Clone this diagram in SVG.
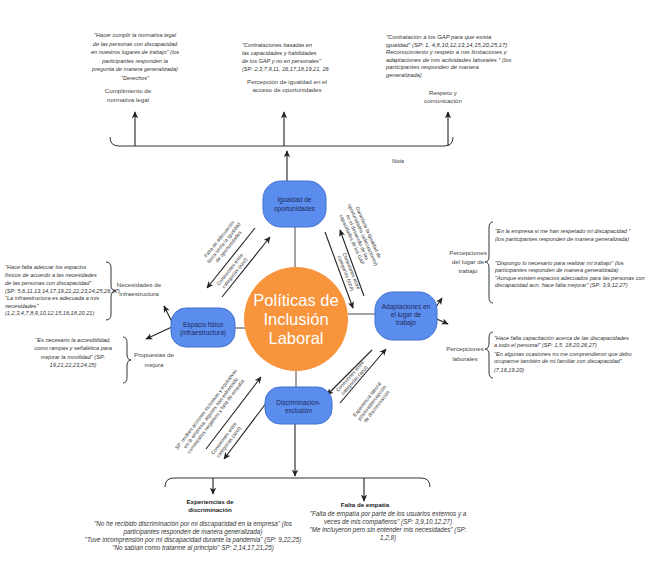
<svg xmlns="http://www.w3.org/2000/svg" width="666" height="582" viewBox="0 0 666 582">
<defs>
<marker id="ah" viewBox="0 0 10 10" refX="9" refY="5" markerWidth="7" markerHeight="7" markerUnits="userSpaceOnUse" orient="auto"><path d="M0,0.5 L10,5 L0,9.5 L2.5,5 z" fill="#222"/></marker>
<style>
.q{font-family:"Liberation Sans",Arial,sans-serif;font-style:italic;font-size:5.6px;fill:#333}
.q2{font-family:"Liberation Sans",Arial,sans-serif;font-style:italic;font-size:5.9px;fill:#333}
.qc{font-family:"Liberation Sans",Arial,sans-serif;font-style:italic;font-size:5.6px;fill:#333;text-anchor:middle}
.qb{font-family:"Liberation Sans",Arial,sans-serif;font-style:italic;font-size:6.3px;fill:#333;text-anchor:middle}
.lb{font-family:"Liberation Sans",Arial,sans-serif;font-size:6.2px;fill:#444;text-anchor:middle}
.bd{font-family:"Liberation Sans",Arial,sans-serif;font-size:6.2px;font-weight:bold;fill:#222;text-anchor:middle}
.dg{font-family:"Liberation Sans",Arial,sans-serif;font-size:5px;fill:#333;text-anchor:middle}
.nt{font-family:"Liberation Sans",Arial,sans-serif;font-size:6.5px;fill:#1b2a57;text-anchor:middle}
.node{fill:#5b8def;stroke:#4170cc;stroke-width:1}
.ln{stroke:#222;stroke-width:1.1;fill:none}
.gl{stroke:#666;stroke-width:1.2;fill:none}
.br{stroke:#333;stroke-width:1;fill:none}
.ct{font-family:"Liberation Sans",Arial,sans-serif;font-size:16.5px;fill:#fff;text-anchor:middle}
</style>
</defs>
<rect width="666" height="582" fill="#fff"/>

<g id="connectors">
  <line class="gl" x1="295" y1="227" x2="295" y2="267"/>
  <line class="gl" x1="296" y1="371" x2="296" y2="387"/>
  <line class="gl" x1="234" y1="328" x2="245" y2="328"/>
  <line class="gl" x1="348" y1="314" x2="375" y2="314"/>
  <path class="br" d="M110,137 Q110,146 119,146 L444,146 Q453,146 453,137"/>
  <path class="br" d="M165,487 Q165,478 174,478 L421,478 Q430,478 430,487"/>
  <path class="br" d="M106,262 Q111,262 111,268 L111,285 Q111,291 116,291 Q111,291 111,297 L111,314 Q111,320 106,320"/>
  <path class="br" d="M123,337 Q127,337 127,343 L127,354 Q127,360 131,360 Q127,360 127,366 L127,377 Q127,383 123,383"/>
  <path class="br" d="M493,222 Q489,222 489,228 L489,256 Q489,262 485,262 Q489,262 489,268 L489,297 Q489,303 493,303"/>
  <path class="br" d="M493,332 Q489,332 489,338 L489,343 Q489,349 485,349 Q489,349 489,355 L489,372 Q489,378 493,378"/>
  <line class="ln" x1="135" y1="146" x2="135" y2="112" marker-end="url(#ah)"/>
  <line class="ln" x1="284" y1="146" x2="284" y2="112" marker-end="url(#ah)"/>
  <line class="ln" x1="448" y1="146" x2="448" y2="112" marker-end="url(#ah)"/>
  <line class="ln" x1="287" y1="181" x2="287" y2="151" marker-end="url(#ah)"/>
  <line class="ln" x1="174" y1="326" x2="164" y2="306" marker-end="url(#ah)"/>
  <line class="ln" x1="174" y1="326" x2="146" y2="339" marker-end="url(#ah)"/>
  <line class="ln" x1="430" y1="316" x2="442" y2="298" marker-end="url(#ah)"/>
  <line class="ln" x1="430" y1="316" x2="448" y2="324" marker-end="url(#ah)"/>
  <line class="ln" x1="255" y1="228" x2="207" y2="288" marker-end="url(#ah)"/>
  <line class="ln" x1="222" y1="297" x2="270" y2="237" marker-end="url(#ah)"/>
  <line class="ln" x1="325" y1="232" x2="353" y2="308" marker-end="url(#ah)"/>
  <line class="ln" x1="364" y1="296" x2="340" y2="230" marker-end="url(#ah)"/>
  <line class="ln" x1="206" y1="449" x2="261" y2="377" marker-end="url(#ah)"/>
  <line class="ln" x1="276" y1="390" x2="224" y2="459" marker-end="url(#ah)"/>
  <line class="ln" x1="372" y1="350" x2="327" y2="395" marker-end="url(#ah)"/>
  <line class="ln" x1="340" y1="403" x2="386" y2="349" marker-end="url(#ah)"/>
  <line class="ln" x1="295" y1="424" x2="295" y2="476" marker-end="url(#ah)"/>
  <line class="ln" x1="213" y1="478" x2="213" y2="494" marker-end="url(#ah)"/>
  <line class="ln" x1="364" y1="478" x2="364" y2="501" marker-end="url(#ah)"/>
</g>

<g id="center">
  <circle cx="296" cy="319" r="52" fill="#f7943c"/>
  <text class="ct" x="296" y="306">Políticas de</text>
  <text class="ct" x="296" y="325">Inclusión</text>
  <text class="ct" x="296" y="344">Laboral</text>
</g>

<g id="igualdad">
  <rect class="node" x="263" y="181" width="63" height="46" rx="18"/>
  <text class="nt" x="294.5" y="202">Igualdad de</text>
  <text class="nt" x="294.5" y="210.5">oportunidades</text>
</g>
<g id="espacio">
  <rect class="node" x="171" y="308" width="64" height="39" rx="15"/>
  <text class="nt" x="203" y="326.5">Espacio físico</text>
  <text class="nt" x="203" y="334.5">(infraestructura)</text>
</g>
<g id="adaptaciones">
  <rect class="node" x="375" y="292" width="62" height="48" rx="18"/>
  <text class="nt" x="406" y="309">Adaptaciones en</text>
  <text class="nt" x="406" y="317">el lugar de</text>
  <text class="nt" x="406" y="325">trabajo</text>
</g>
<g id="discriminacion">
  <rect class="node" x="265" y="387" width="67" height="37" rx="15"/>
  <text class="nt" x="298.5" y="404.5">Discriminación-</text>
  <text class="nt" x="298.5" y="413">exclusión</text>
</g>

<g id="top-left">
  <text class="qc" x="135" y="37">"Hacer cumplir la normativa legal</text>
  <text class="qc" x="135" y="45.5">de las personas con discapacidad</text>
  <text class="qc" x="135" y="54">en nuestros lugares de trabajo" (los</text>
  <text class="qc" x="135" y="62.5">participantes responden la</text>
  <text class="qc" x="135" y="71">pregunta de manera generalizada)</text>
  <text class="qc" x="135" y="79.5">"Derechos"</text>
  <text class="lb" x="128" y="93">Cumplimiento de</text>
  <text class="lb" x="128" y="102">normativa legal</text>
</g>
<g id="top-middle">
  <text class="q" x="242" y="47">"Contrataciones basadas en</text>
  <text class="q" x="242" y="55">las capacidades y habilidades</text>
  <text class="q" x="242" y="63">de los GAP y no en personales"</text>
  <text class="q" x="242" y="71">(SP: 2,3,7,9,11, 16,17,18,19,21, 26</text>
  <text class="lb" x="287" y="84">Percepción de igualdad en el</text>
  <text class="lb" x="287" y="92">acceso de oportunidades</text>
</g>
<g id="top-right">
  <text class="q2" x="386" y="39">"Contratación a los GAP para que exista</text>
  <text class="q2" x="386" y="46.5">igualdad" (SP: 1, 4,8,10,12,13,14,15,20,25,17)</text>
  <text class="q2" x="386" y="54">Reconocimiento y respeto a mis limitaciones y</text>
  <text class="q2" x="386" y="61.5">adaptaciones de mis actividades laborales " (los</text>
  <text class="q2" x="386" y="69">participantes responden de manera</text>
  <text class="q2" x="386" y="76.5">generalizada)</text>
  <text class="lb" x="443" y="95">Respeto y</text>
  <text class="lb" x="443" y="103">comunicación</text>
</g>
<text class="q" x="392" y="163">Nota</text>

<g id="left-upper">
  <text class="q" x="5" y="269">"Hace falta adecuar los espacios</text>
  <text class="q" x="5" y="277">físicos de acuerdo a las necesidades</text>
  <text class="q" x="5" y="285">de las personas con discapacidad"</text>
  <text class="q" x="5" y="292.5">(SP: 5,6,11,13,14,17,19,21,22,23,24,25,26,27)</text>
  <text class="q" x="5" y="300">"La infraestructura es adecuada a mis</text>
  <text class="q" x="5" y="307.5">necesidades"</text>
  <text class="q" x="5" y="315">(1,2,3,4,7,8,9,10,12,15,16,18,20,21)</text>
  <text class="lb" x="139" y="287">Necesidades de</text>
  <text class="lb" x="139" y="296">infraestructura</text>
</g>
<g id="left-lower">
  <text class="qc" x="73" y="342">"Es necesario la accesibilidad,</text>
  <text class="qc" x="73" y="350">como rampas y señalética para</text>
  <text class="qc" x="73" y="358.5">mejorar la movilidad" (SP:</text>
  <text class="qc" x="73" y="367">19,21,22,23,24,25)</text>
  <text class="lb" x="154" y="357">Propuestas de</text>
  <text class="lb" x="154" y="367">mejora</text>
</g>
<g id="right-upper">
  <text class="lb" x="468" y="255">Percepciones</text>
  <text class="lb" x="468" y="264">del lugar de</text>
  <text class="lb" x="468" y="272.5">trabajo</text>
  <text class="q" x="495" y="233">"En la empresa si me han respetado mi discapacidad "</text>
  <text class="q" x="495" y="240.5">(los participantes responden de manera generalizada)</text>
  <text class="q" x="495" y="264.5">"Dispongo lo necesario para realizar mi trabajo" (los</text>
  <text class="q" x="495" y="272">participantes responden de manera generalizada)</text>
  <text class="q" x="495" y="279.5">"Aunque existen espacios adecuados para las personas con</text>
  <text class="q" x="495" y="287">discapacidad aun, hace falta mejorar" (SP: 3,9,12,27)</text>
</g>
<g id="right-lower">
  <text class="lb" x="465" y="351">Percepciones</text>
  <text class="lb" x="465" y="360.5">laborales</text>
  <text class="q" x="494" y="339.5">"Hace falta capacitación acerca de las discapacidades</text>
  <text class="q" x="494" y="347">a todo el personal" (SP: 1,5, 18,20,26,27)</text>
  <text class="q" x="494" y="355.5">"En algunas ocasiones no me comprendieron que debo</text>
  <text class="q" x="494" y="363">ocuparme también de mi familiar con discapacidad"</text>
  <text class="q" x="494" y="371.5">(7,16,19,20)</text>
</g>
<g id="bottom-left">
  <text class="bd" x="210" y="504">Experiencias de</text>
  <text class="bd" x="210" y="512">discriminación</text>
  <text class="qb" x="193" y="525.5">"No he recibido discriminación por mi discapacidad en la empresa" (los</text>
  <text class="qb" x="193" y="533.5">participantes responden de manera generalizada)</text>
  <text class="qb" x="193" y="541.5">"Tuve incomprensión por mi discapacidad durante la pandemia" (SP: 9,22,25)</text>
  <text class="qb" x="193" y="549.5">"No sabían como tratarme al principio" SP: 2,14,17,21,25)</text>
</g>
<g id="bottom-right">
  <text class="bd" x="365" y="507">Falta de empatía</text>
  <text class="qb" x="388" y="516">"Falta de empatía por parte de los usuarios externos y a</text>
  <text class="qb" x="388" y="524">veces de mis compañeros" (SP: 3,9,10,12,27)</text>
  <text class="qb" x="388" y="532">"Me incluyeron pero sin entender mis necesidades" (SP:</text>
  <text class="qb" x="388" y="540">1,2,8)</text>
</g>

<g id="edge-labels">
  <g transform="translate(224,243) rotate(-51.5)">
    <text class="dg" x="0" y="-4.5">Falta de adecuación</text>
    <text class="dg" x="0" y="1.5">física limita la igualdad</text>
    <text class="dg" x="0" y="7.5">de oportunidades</text>
  </g>
  <g transform="translate(232,271) rotate(-51.5)">
    <text class="dg" x="0" y="-1">Conexiones entre</text>
    <text class="dg" x="0" y="5">categorías (azul)</text>
  </g>
  <g transform="translate(360,236) rotate(66)">
    <text class="dg" x="0" y="-7.5">Garantizar la igualdad de</text>
    <text class="dg" x="0" y="-1.5">oportunidades (adecuaciones)</text>
    <text class="dg" x="0" y="4.5">en el desarrollo de las</text>
    <text class="dg" x="0" y="10.5">capacidades de los GAP</text>
  </g>
  <g transform="translate(349,272) rotate(68)">
    <text class="dg" x="0" y="-1">Conexiones entre</text>
    <text class="dg" x="0" y="5">categorías (azul)</text>
  </g>
  <g transform="translate(211,413) rotate(-53)">
    <text class="dg" x="0" y="-4.5">SP: reciben acciones inclusivas y equitativas</text>
    <text class="dg" x="0" y="1.5">en la empresa, algunos han enfrentado</text>
    <text class="dg" x="0" y="7.5">comentarios negativos y falta de empatía</text>
  </g>
  <g transform="translate(226,440) rotate(-53)">
    <text class="dg" x="0" y="-1">Conexiones entre</text>
    <text class="dg" x="0" y="5">categorías (azul)</text>
  </g>
  <g transform="translate(352,378) rotate(-48)">
    <text class="dg" x="0" y="-1">Conexiones entre</text>
    <text class="dg" x="0" y="5">categorías (azul)</text>
  </g>
  <g transform="translate(372,403) rotate(-52)">
    <text class="dg" x="0" y="-4.5">Experiencia laboral</text>
    <text class="dg" x="0" y="1.5">positiva/percepción</text>
    <text class="dg" x="0" y="7.5">de discriminación</text>
  </g>
</g>
</svg>
